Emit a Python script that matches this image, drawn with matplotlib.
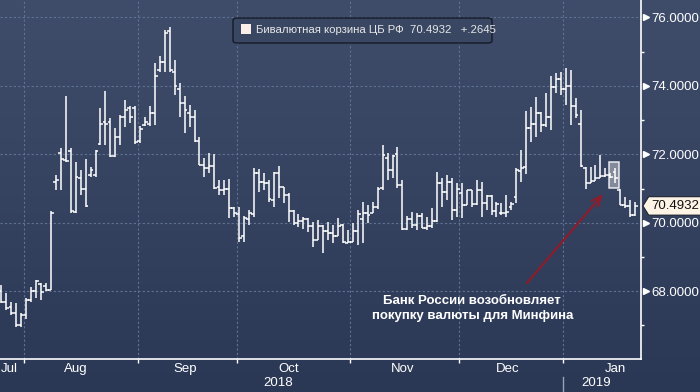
import numpy as np
import pandas as pd
import matplotlib
matplotlib.use('Agg')
import matplotlib.pyplot as plt
from matplotlib.colors import LinearSegmentedColormap
from matplotlib.patches import FancyBboxPatch, Rectangle, Polygon
from matplotlib.transforms import blended_transform_factory

plt.rcParams['font.family'] = ['Liberation Sans', 'DejaVu Sans']

# daily bars of the CBR dollar/euro basket, one per business day
dates = pd.bdate_range('2018-07-25', periods=129)

opens = [68.0, 67.7, 67.55, 67.35, 67.0, 67.3, 67.75, 68.0, 68.2, 68.15,
         68.05, 71.2, 72.05, 71.83, 72.1, 70.32, 71.3, 71.0, 71.4, 71.4,
         72.3, 72.95, 72.95, 71.95, 72.5, 73.1, 73.35, 73.35, 72.4, 72.85,
         72.9, 73.2, 74.45, 74.7, 75.6, 74.42, 73.9, 73.5, 73.2, 73.1,
         72.4, 71.7, 71.6, 71.65, 71.05, 70.95, 71.0, 70.43, 70.25, 69.6,
         70.1, 70.25, 71.46, 71.2, 71.15, 70.67, 71.45, 71.05, 70.8, 70.35,
         70.0, 70.05, 70.1, 69.9, 69.5, 69.9, 69.75, 69.7, 69.6, 69.95,
         69.42, 69.45, 69.75, 70.1, 70.3, 70.3, 70.45, 71.02, 71.9, 71.55,
         72.0, 71.1, 69.82, 70.1, 69.95, 70.2, 69.85, 69.9, 70.06, 71.15,
         70.91, 71.2, 70.37, 70.87, 70.52, 70.95, 70.55, 70.96, 70.59, 70.78,
         70.35, 70.3, 70.3, 70.45, 70.75, 71.5, 71.64, 72.76, 72.9, 73.2,
         72.85, 73.1, 73.98, 74.2, 73.9, 74.0, 73.4, 72.9, 71.6, 71.15,
         71.23, 71.3, 71.38, 71.4, 71.47, 70.95, 70.52, 70.5, 70.23]
highs = [68.18, 67.94, 67.69, 67.65, 67.36, 67.8, 68.12, 68.33, 68.24, 68.25,
         70.35, 71.4, 72.2, 73.7, 72.2, 71.79, 71.54, 71.86, 71.64, 72.13,
         73.35, 73.86, 73.06, 72.77, 73.15, 73.59, 73.41, 73.41, 72.83, 73.1,
         73.41, 74.67, 74.88, 75.64, 75.72, 74.76, 74.09, 73.7, 73.45, 73.3,
         72.52, 71.9, 72.04, 72.02, 71.25, 71.25, 71.28, 70.46, 70.45, 70.2,
         70.37, 71.6, 71.57, 71.45, 71.25, 71.49, 71.66, 71.05, 70.87, 70.37,
         70.26, 70.17, 70.14, 70.03, 70.08, 69.94, 70.03, 69.94, 70.14, 69.96,
         69.79, 69.99, 70.37, 70.6, 70.52, 70.62, 71.05, 72.27, 72.04, 71.98,
         72.22, 71.25, 70.2, 70.32, 70.29, 70.29, 70.18, 70.43, 71.49, 71.31,
         71.4, 71.31, 71.16, 71.16, 70.96, 70.96, 71.25, 71.2, 70.81, 70.81,
         70.62, 70.58, 70.81, 70.6, 71.6, 72.13, 73.27, 73.39, 73.68, 73.25,
         73.8, 74.29, 74.38, 74.42, 74.52, 74.45, 73.64, 73.3, 71.64, 71.64,
         71.69, 71.98, 71.59, 71.45, 71.6, 71.0, 70.76, 70.67, 70.62]
lows = [67.65, 67.45, 67.3, 66.96, 66.96, 67.2, 67.68, 67.8, 67.73, 68.0,
        68.03, 70.96, 70.96, 71.79, 70.3, 70.28, 70.81, 70.47, 71.35, 71.35,
        72.27, 72.27, 71.92, 71.92, 72.27, 72.81, 72.91, 72.3, 72.34, 72.83,
        72.83, 72.86, 74.42, 74.42, 74.42, 73.74, 73.09, 72.63, 72.8, 72.37,
        71.69, 71.35, 71.45, 70.98, 70.81, 70.81, 70.14, 70.17, 69.45, 69.45,
        69.93, 70.17, 70.91, 70.96, 70.62, 70.47, 70.72, 70.59, 70.03, 69.93,
        69.89, 69.82, 69.74, 69.3, 69.5, 69.12, 69.5, 69.41, 69.6, 69.41,
        69.41, 69.45, 69.35, 69.4, 70.0, 70.28, 70.4, 70.96, 71.25, 71.31,
        71.02, 69.79, 69.79, 69.84, 69.79, 69.84, 69.79, 69.85, 70.03, 70.47,
        70.67, 70.08, 70.18, 70.14, 70.52, 70.47, 70.52, 70.18, 70.37, 70.23,
        70.18, 70.23, 70.18, 70.38, 70.57, 71.2, 71.43, 72.37, 72.52, 72.66,
        72.81, 72.71, 73.8, 73.74, 73.44, 72.86, 73.06, 71.64, 71.0, 71.15,
        71.22, 71.3, 71.33, 71.3, 71.15, 70.52, 70.42, 70.18, 70.2]
closes = [67.7, 67.5, 67.35, 67.0, 67.3, 67.75, 68.0, 68.3, 67.98, 68.05,
          70.3, 71.25, 71.85, 71.82, 70.35, 71.35, 71.0, 70.5, 71.55, 72.1,
          72.9, 72.9, 71.95, 72.5, 73.1, 73.3, 73.1, 72.35, 72.75, 72.95,
          73.2, 74.3, 74.7, 75.55, 74.45, 73.99, 73.5, 73.3, 73.1, 72.4,
          71.7, 71.6, 71.65, 71.02, 70.95, 71.0, 70.43, 70.3, 69.55, 70.14,
          70.3, 71.46, 71.2, 71.15, 70.7, 71.45, 71.05, 70.8, 70.35, 70.0,
          70.05, 70.1, 69.9, 69.5, 69.9, 69.75, 69.7, 69.6, 69.9, 69.45,
          69.45, 69.75, 70.26, 70.3, 70.23, 70.45, 71.0, 71.98, 71.55, 71.95,
          71.1, 69.82, 70.1, 69.95, 70.2, 69.85, 69.9, 70.06, 71.15, 70.91,
          71.2, 70.37, 71.0, 70.52, 70.95, 70.55, 70.96, 70.59, 70.78, 70.35,
          70.55, 70.3, 70.32, 70.55, 71.55, 71.6, 72.76, 72.9, 73.2, 72.85,
          73.1, 73.98, 74.2, 73.9, 74.0, 73.4, 73.15, 71.66, 71.15, 71.23,
          71.3, 71.38, 71.4, 71.33, 71.3, 70.52, 70.5, 70.23, 70.4932]

series_name = 'Бивалютная корзина ЦБ РФ'
last_change = '+.2645'
note = 'Банк России возобновляет\nпокупку валюты для Минфина'
month_names = {7: 'Jul', 8: 'Aug', 9: 'Sep', 10: 'Oct', 11: 'Nov', 12: 'Dec', 1: 'Jan'}
y_major = [68, 70, 72, 74, 76]
y_minor = [67, 69, 71, 73, 75]
note_date = '2019-01-15'

x = np.arange(len(dates))
months = dates.month.values
bounds = [i - 0.5 for i in range(1, len(dates)) if months[i] != months[i - 1]]
year_bound = [i - 0.5 for i in range(1, len(dates)) if dates.year[i] != dates.year[i - 1]][0]

fig = plt.figure(figsize=(7, 3.92), dpi=100)

# gradient background over the whole figure
bg = fig.add_axes([0, 0, 1, 1], zorder=-10)
cmap = LinearSegmentedColormap.from_list('bbg', ['#2b3855', '#3f4d6b'])
bg.imshow(np.linspace(0, 1, 256).reshape(-1, 1), aspect='auto', cmap=cmap,
          origin='lower', extent=[0, 1, 0, 1])
bg.axis('off')

ax = fig.add_axes([0, 33 / 392, 641 / 700, 359 / 392])
ax.set_facecolor('none')
ax.set_xlim(-0.3, 129.2)
ax.set_ylim(66.02, 76.51)

# OHLC bars
w = 0.55
ax.vlines(x, lows, highs, color='white', lw=1.1, zorder=3)
ax.hlines(opens, x - w, x, color='white', lw=1.1, zorder=3)
ax.hlines(closes, x, x + w, color='white', lw=1.1, zorder=3)

# grid
ax.set_xticks(bounds)
ax.set_yticks(y_major)
ax.set_yticks(y_minor, minor=True)
ax.grid(True, which='major', color='#5f7292', ls=(0, (2, 2)), lw=0.8, zorder=1)

for s in ['top', 'left']:
    ax.spines[s].set_visible(False)
for s in ['right', 'bottom']:
    ax.spines[s].set_color('white')
    ax.spines[s].set_linewidth(1.2)

ax.tick_params(axis='x', which='major', length=3, width=1, color='white',
               labelbottom=False)
ax.yaxis.tick_right()
ax.tick_params(axis='y', which='major', length=0, pad=7.5, labelsize=9.5,
               labelcolor='white')
ax.tick_params(axis='y', which='minor', length=2.5, width=1, color='white')
ax.set_yticklabels(['%.4f' % v for v in y_major])

# triangle markers on major y ticks
tri = blended_transform_factory(ax.transAxes, ax.transData)
ax.plot([1.0 + 4.5 / 641] * len(y_major), y_major, ls='none', marker='>',
        ms=5, color='white', transform=tri, clip_on=False, zorder=5)

# month labels near the middle of each month, year labels under them
xb = blended_transform_factory(ax.transData, ax.transAxes)
for m in pd.unique(months):
    idx = np.where(months == m)[0]
    mid = dates[idx[0]].replace(day=15)
    pos = int(np.searchsorted(dates, mid))
    if dates[idx[0]].day > 15:
        # partial first month: keep the label inside the picture
        pos = bounds[0] - 2.9
    elif mid.dayofweek >= 5:
        pos -= 0.8
    ax.text(pos, -0.028, month_names[m], transform=xb, ha='center', va='center',
            color='white', fontsize=9.5)
years = dates.year.values
for yr in pd.unique(years):
    idx = np.where(years == yr)[0]
    lo = max(idx[0] - 0.5, -0.3)
    hi = min(idx[-1] + 0.5, 129.2)
    ax.text((lo + hi) / 2 - 0.8, -0.067, str(yr), transform=xb, ha='center',
            va='center', color='white', fontsize=9.5)
ax.plot([year_bound, year_bound], [-0.05, -0.095], color='#9aa3b5', lw=1,
        transform=xb, clip_on=False)

# highlight box around the announcement bars
ni = int(np.searchsorted(dates, pd.Timestamp(note_date)))
box = Rectangle((ni - 1.3, 71.02), 2.05, 0.75, facecolor='#9097a6', alpha=0.85,
                edgecolor='white', lw=1.1, zorder=2)
ax.add_patch(box)

# annotation arrow and text
ax.annotate('', xy=(ni - 2.1, 70.9), xytext=(ni - 18.2, 68.18),
            arrowprops=dict(arrowstyle='->,head_length=0.7,head_width=0.3',
                            color='#8c1d2c', lw=1.6), zorder=4)
ax.text(ni - 28.9, 67.49, note, ha='center', va='center', color='white',
        fontsize=9.5, fontweight='bold', linespacing=1.35)

# last value tag
lv = closes[-1]
tag = Polygon([(1.003, lv), (1.012, lv + 0.27), (1.1, lv + 0.27),
               (1.1, lv - 0.27), (1.012, lv - 0.27)], closed=True,
              facecolor='#fdf4e6', edgecolor='#1c2230', lw=0.8,
              transform=tri, clip_on=False, zorder=6)
ax.add_patch(tag)
ax.text(1.016, lv, '%.4f' % lv, transform=tri, ha='left', va='center',
        color='#111111', fontsize=9.5, zorder=7)

# legend box
leg = FancyBboxPatch((233 / 700, 349 / 392), 259 / 700, 25 / 392,
                     boxstyle='round,pad=0,rounding_size=0.006',
                     transform=fig.transFigure, facecolor='#394763',
                     edgecolor='#151a26', lw=1.0, zorder=8)
fig.patches.append(leg)
fig.patches.append(Rectangle((241 / 700, 358 / 392), 9.5 / 700, 9.5 / 392,
                             transform=fig.transFigure, facecolor='#fbefea',
                             edgecolor='none', zorder=9))
fig.text(256 / 700, 362 / 392, '%s  %.4f   %s' % (series_name, lv, last_change),
         ha='left', va='center', color='#e6e6e6', fontsize=8.2, zorder=10)

fig.savefig('out.png', dpi=100)
